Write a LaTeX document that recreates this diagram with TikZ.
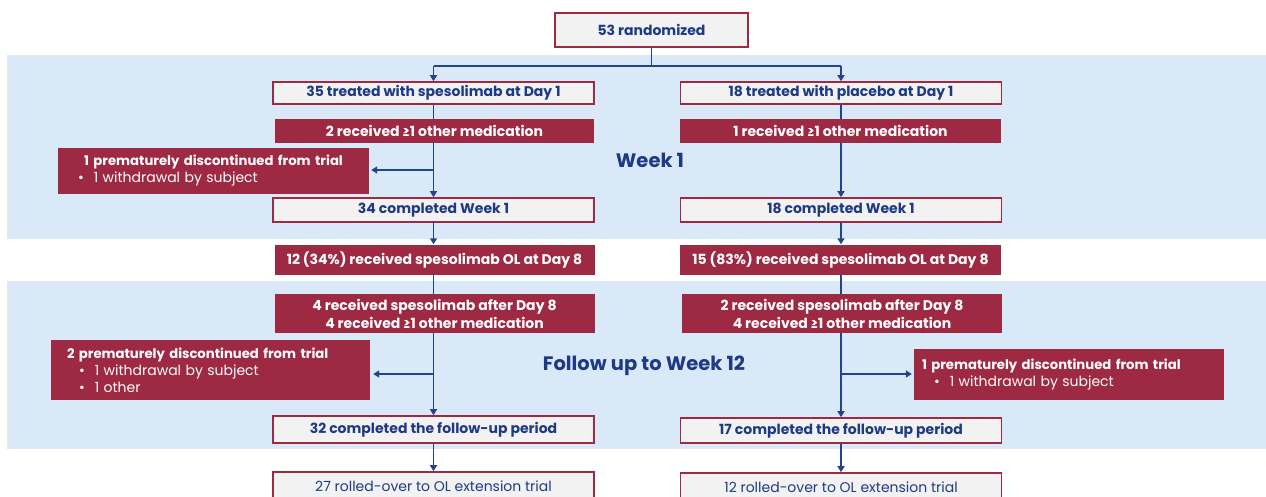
\documentclass[tikz,border=0pt]{standalone}
\usepackage{fontspec}
\setmainfont{Poppins}
\usetikzlibrary{arrows.meta,calc}
\definecolor{dred}{HTML}{9E2943}
\definecolor{navy}{HTML}{1E3A85}
\definecolor{lnavy}{HTML}{23448C}
\definecolor{band}{HTML}{DAE9F7}
\definecolor{boxg}{HTML}{F2F2F2}
\newcommand{\bul}[1]{{\fontsize{14}{17}\selectfont\mdseries\textbullet\hspace{10pt}#1}}
\begin{document}
\begin{tikzpicture}[x=1pt,y=-1pt,
  gbox/.style={draw=dred, line width=1.6pt, fill=boxg, text=navy, inner sep=0pt,
    font=\fontsize{14}{15}\selectfont\bfseries},
  rbox/.style={fill=dred, text=white, inner sep=0pt,
    font=\fontsize{14}{18}\selectfont\bfseries},
  wbox/.style={rbox, font=\fontsize{13.2}{17}\selectfont},
  conn/.style={draw=lnavy, line width=1.4pt},
  arr/.style={conn, -{Triangle[width=7pt,length=6pt]}},
  phase/.style={text=navy, font=\fontsize{19.5}{22}\selectfont\bfseries}]
\useasboundingbox (0,0) rectangle (1266,496);
\clip (0,0) rectangle (1266,496);
% bands
\fill[band] (7,55) rectangle (1266,239);
\fill[band] (7,281) rectangle (1266,449);
% phase labels
\node[phase] (wk1) at (650,160) {Week 1};
\node[phase] (fu) at (644,366) {Follow up to Week 12};
% top
\node[gbox, minimum width=193, minimum height=34] (rand) at (651.5,30) {53 randomized};
% left column
\node[gbox, minimum width=321, minimum height=22] (L1) at (433.5,93) {35 treated with spesolimab at Day 1};
\node[rbox, minimum width=319, minimum height=24] (L2) at (434.5,131) {2 received ≥1 other medication};
\node[wbox, minimum width=311, minimum height=46, text width=291pt] (Ld1) at (213.5,171)
  {\centering\bfseries 1 prematurely discontinued from trial\par
   \raggedright\hspace*{10pt}\bul{1 withdrawal by subject}\par};
\node[gbox, minimum width=321, minimum height=24] (L3) at (433.5,210) {34 completed Week 1};
\node[rbox, minimum width=320, minimum height=30] (L4) at (434.5,259.5) {12 (34\%) received spesolimab OL at Day 8};
\node[rbox, minimum width=320, minimum height=39, align=center] (L5) at (434.5,313.5) {4 received spesolimab after Day 8\\4 received ≥1 other medication};
\node[wbox, minimum width=319, minimum height=60, text width=287pt] (Ld2) at (210.5,370)
  {\raggedright\bfseries 2 prematurely discontinued from trial\par
   \hspace*{12pt}\bul{1 withdrawal by subject}\par
   \hspace*{12pt}\bul{1 other}\par};
\node[gbox, minimum width=321, minimum height=27] (L6) at (433.5,429.5) {32 completed the follow-up period};
\node[gbox, minimum width=321, minimum height=28, font=\fontsize{14}{15}\selectfont] (L7) at (433.5,486) {27 rolled-over to OL extension trial};
% right column
\node[gbox, minimum width=321, minimum height=22] (R1) at (841,93) {18 treated with placebo at Day 1};
\node[rbox, minimum width=321, minimum height=24] (R2) at (840.5,131) {1 received ≥1 other medication};
\node[gbox, minimum width=321, minimum height=24] (R3) at (841,210) {18 completed Week 1};
\node[rbox, minimum width=321, minimum height=30] (R4) at (840.5,259.5) {15 (83\%) received spesolimab OL at Day 8};
\node[rbox, minimum width=320, minimum height=39, align=center] (R5) at (842,313.5) {2 received spesolimab after Day 8\\4 received ≥1 other medication};
\node[wbox, minimum width=310, minimum height=51, text width=294pt] (Rd) at (1069,374.5)
  {\raggedright\bfseries 1 prematurely discontinued from trial\par
   \hspace*{12pt}\bul{1 withdrawal by subject}\par};
\node[gbox, minimum width=321, minimum height=25] (R6) at (841,430.5) {17 completed the follow-up period};
\node[gbox, minimum width=321, minimum height=28, font=\fontsize{14}{15}\selectfont] (R7) at (841,487) {12 rolled-over to OL extension trial};
% connectors: top split
\coordinate (j) at ($(rand.south)+(0,18)$);
\coordinate (jl) at (L1.north |- j);
\coordinate (jr) at (R1.north |- j);
\draw[conn] (rand.south) -- (j);
\draw[conn] (jl) -- (jr);
\draw[arr] (jl) -- (L1.north);
\draw[arr] (jr) -- (R1.north);
% left column
\draw[conn] (L1.south) -- (L1.south |- L2.north);
\draw[arr] (L1.south |- L2.south) -- (L3.north);
\coordinate (b1) at ($(L1.south |- Ld1.east)+(0,-1)$);
\draw[arr] (b1) -- ($(Ld1.east |- b1)+(2,0)$);
\draw[arr] (L3.south) -- (L3.south |- L4.north);
\draw[conn] (L3.south |- L4.south) -- (L3.south |- L5.north);
\draw[arr] (L3.south |- L5.south) -- (L6.north);
\coordinate (b2) at ($(L6.north |- Ld2.east)+(0,4)$);
\draw[arr] (b2) -- ($(Ld2.east |- b2)+(3,0)$);
\draw[arr] (L6.south) -- (L7.north);
% right column
\draw[conn] (R1.south) -- (R1.south |- R2.north);
\draw[arr] (R1.south |- R2.south) -- (R3.north);
\draw[arr] (R3.south) -- (R3.south |- R4.north);
\draw[conn] (R3.south |- R4.south) -- (R3.south |- R5.north);
\draw[arr] (R3.south |- R5.south) -- (R6.north);
\coordinate (b3) at ($(R6.north |- Rd.west)+(0,-0.5)$);
\draw[arr] (b3) -- ($(Rd.west |- b3)+(-2,0)$);
\draw[arr] (R6.south) -- (R7.north);
\end{tikzpicture}
\end{document}
